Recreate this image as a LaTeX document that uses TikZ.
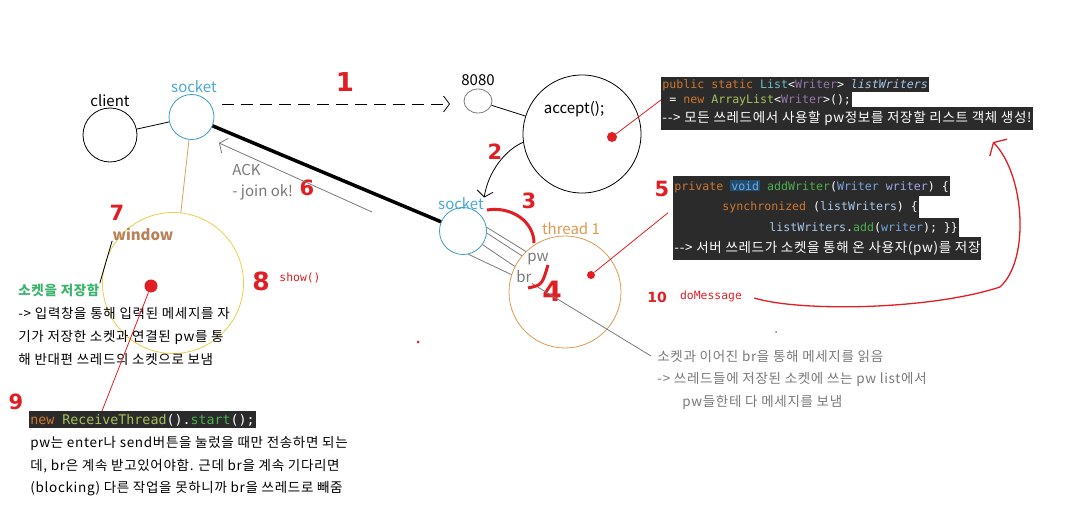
\documentclass[tikz,border=0pt]{standalone}
\usepackage{fontspec}
\setmainfont{Noto Sans CJK KR}
\newfontfamily\krfont{Noto Sans CJK KR}[LetterSpace=5]
\newfontfamily\codefont{DejaVu Sans Mono}
\newfontfamily\numfont{DejaVu Sans}
\usetikzlibrary{arrows.meta,shapes.geometric,calc}
\setlength{\fboxsep}{1pt}

\definecolor{sockc}{HTML}{3A9CC4}
\definecolor{socktxt}{HTML}{4AA8D8}
\definecolor{winc}{HTML}{E8D04C}
\definecolor{wintxt}{HTML}{B98258}
\definecolor{thrc}{HTML}{DE9A52}
\definecolor{linkc}{HTML}{DCA060}
\definecolor{redc}{HTML}{E01E24}
\definecolor{greenc}{HTML}{3DB46D}
\definecolor{grayc}{HTML}{7A7A7A}
\definecolor{codebg}{HTML}{2B2B2B}
\definecolor{kwc}{HTML}{CC7832}
\definecolor{typc}{HTML}{6CC0C8}
\definecolor{genc}{HTML}{9876AA}
\definecolor{fnc}{HTML}{A5C25C}
\definecolor{idc}{HTML}{A9C8E8}
\definecolor{parc}{HTML}{7AA6DA}
\definecolor{argc}{HTML}{9FA8E4}
\definecolor{mthc}{HTML}{4CAF50}
\definecolor{voidbg}{HTML}{1E4E72}

\begin{document}
\begin{tikzpicture}[
    x=1pt, y=-1pt, line width=0.8pt,
    ring/.style={circle, draw, inner sep=0pt},
    lbl/.style={inner sep=0pt, font=\fontsize{15}{17}\selectfont},
    num/.style={inner sep=0pt, text=redc, font=\numfont\bfseries\fontsize{21}{21}\selectfont},
    txt/.style={anchor=west, inner sep=0pt, font=\krfont\fontsize{13.5}{15}\selectfont},
    code/.style={anchor=north west, fill=codebg, text=white, inner xsep=1pt, inner ysep=0pt, minimum height=15pt, font=\codefont\fontsize{11.6}{13}\selectfont},
    kor/.style={font=\krfont\fontsize{13.5}{15}\selectfont},
    mono/.style={inner sep=0pt, text=redc, font=\codefont\fontsize{11.4}{13}\selectfont},
    blob/.style={circle, fill=redc, inner sep=0pt},
    arr/.style={-{Straight Barb[length=6pt,width=16pt]}}
]
\path[fill=white, use as bounding box] (0,0) rectangle (1080,532);

% circles
\node[ring, minimum size=54pt] (client) at (110,135) {};
\node[ring, draw=sockc, minimum size=45pt] (sockA) at (191.5,117) {};
\node[ellipse, draw=grayc, inner sep=0pt, minimum width=28pt, minimum height=24pt] (port) at (478,101) {};
\node[ring, minimum size=118pt] (acc) at (582,134) {};
\node[ring, draw=sockc, minimum size=47pt] (sockB) at (463,231) {};
\node[ring, draw=thrc, minimum size=112pt] (thr) at (565,292) {};
\node[ring, draw=winc, minimum size=141pt] (win) at (173,283) {};

% labels
\node[lbl] (clientlbl) at (110,101) {client};
\node[lbl, text=socktxt] (sockAlbl) at (194,87) {socket};
\node[lbl] (portlbl) at (478,80) {8080};
\node[lbl] (acclbl) at (574,109) {accept();};
\node[lbl, text=socktxt] (sockBlbl) at (461,204) {socket};
\node[lbl, text=thrc] (thrlbl) at (571,229) {thread 1};
\node[lbl, text=grayc] (pw) at (538,259) {pw};
\node[lbl, text=grayc] (br) at (524,277) {br};
\node[lbl, text=grayc, anchor=west] (ack) at (232,170) {ACK};
\node[lbl, text=grayc, anchor=west] (join) at (232,192) {- join ok!};
\node[lbl, text=wintxt, font=\bfseries\fontsize{15}{17}\selectfont] (winlbl) at (143,234) {window};
\node[mono] (show) at (300,278) {show()};
\node[mono] (domsg) at (711,296) {doMessage};

% red marks
\node[num, font=\numfont\bfseries\fontsize{26}{26}\selectfont] (n1) at (345,82) {1};
\node[num] (n2) at (495,152) {2};
\node[num] (n3) at (529,201) {3};
\node[num, font=\numfont\bfseries\fontsize{28}{28}\selectfont] (n4) at (552,291) {4};
\node[num] (n5) at (662,189) {5};
\node[num] (n6) at (307,188) {6};
\node[num] (n7) at (117,213) {7};
\node[num, font=\numfont\bfseries\fontsize{25}{25}\selectfont] (n8) at (261,281) {8};
\node[num] (n9) at (16,402) {9};
\node[num, font=\numfont\bfseries\fontsize{14}{14}\selectfont] (n10) at (657,297) {10};
\node[blob, minimum size=13pt] (winbl) at (151,286) {};
\node[blob, minimum size=10pt] (accbl) at (612,137) {};
\node[blob, minimum size=8pt] (thrbl) at (591,275) {};
\node[blob, minimum size=3pt] (spotA) at (418,342) {};
\node[blob, fill=grayc, minimum size=2pt] (spotB) at (776,332) {};

% code
\node[code] (cbA) at (661,77) {{\color{kwc}public static} {\color{typc}List}<{\color{genc}Writer}> {\color{idc}\itshape listWriters}};
\node[code] (cbB) at (661,92) {\hspace*{7pt}= {\color{kwc}new} {\color{fnc}ArrayList}<{\color{genc}Writer}>();};
\node[code, kor, minimum height=23pt] (cbC) at (661,107) {-{}-> 모든 쓰레드에서 사용할 pw정보를 저장할 리스트 객체 생성!};
\node[code, minimum height=20pt] (cbD) at (673,176) {{\color{kwc}private} \colorbox{voidbg}{\color{parc}void} {\color{mthc}addWriter}({\color{parc}Writer} {\color{argc}writer}) \{};
\node[code, minimum height=22pt] (cbE) at (673,196) {\hspace*{48pt}{\color{kwc}synchronized} ({\color{idc}listWriters}) \{};
\node[code, minimum height=19pt] (cbF) at (673,218) {\hspace*{95pt}{\color{idc}listWriters}.{\color{mthc}add}({\color{parc}writer}); \}\}};
\node[code, kor, minimum height=23pt] (cbG) at (673,237) {-{}-> 서버 쓰레드가 소켓을 통해 온 사용자(pw)를 저장};
\node[code, minimum height=17pt, font=\codefont\fontsize{13.3}{15}\selectfont] (cbH) at (29,411) {{\color{kwc}new} {\color{fnc}ReceiveThread}().{\color{mthc}start}();};

% notes
\node[txt, text=greenc, font=\krfont\bfseries\fontsize{13.5}{15}\selectfont] (save) at (18,290) {소켓을 저장함};
\node[txt] (sendA) at (18,313) {-> 입력창을 통해 입력된 메세지를 자};
\node[txt] (sendB) at (18,337) {기가 저장한 소켓과 연결된 pw를 통};
\node[txt] (sendC) at (18,359) {해 반대편 쓰레드의 소켓으로 보냄};
\node[txt] (recvA) at (30,443) {pw는 enter나 send버튼을 눌렀을 때만 전송하면 되는};
\node[txt] (recvB) at (30,466) {데, br은 계속 받고있어야함. 근데 br을 계속 기다리면};
\node[txt] (recvC) at (30,489) {(blocking) 다른 작업을 못하니까 br을 쓰레드로 빼줌};
\node[txt, text=grayc] (readA) at (657,356) {소켓과 이어진 br을 통해 메세지를 읽음};
\node[txt, text=grayc] (readB) at (657,379) {-> 쓰레드들에 저장된 소켓에 쓰는 pw list에서};
\node[txt, text=grayc] (readC) at (682,402) {pw들한테 다 메세지를 보냄};

\coordinate (dashS) at (222,104);
\coordinate (dashE) at (450,104);
\coordinate (ackS) at (372,212);
\coordinate (ackE) at (219,143);

% connectors
\draw (client) -- (sockA);
\draw[linkc] (sockA) -- (win);
\draw[line width=3.5pt] (sockA) -- (sockB);
\draw[arr, dash pattern=on 12pt off 7pt] (dashS) -- (dashE);
\draw (port) -- (acc);
\draw[arr] (acc.188) .. controls (505,150) and (488,172) .. (sockBlbl.north east);
\draw[arr, grayc] (ackS) -- (ackE);
\foreach \s/\t in {9/134, -5/140, -35/153, -77/162}
    \draw[grayc] (sockB.\s) -- (thr.\t);
\draw[grayc] (br.south east) -- ([xshift=-6pt]readA.west);
\draw (winlbl.south west) -- (save.north east);
\draw[redc] (accbl) -- (cbB.west);
\draw[redc] (thrbl) -- ($(cbE.south west)+(-5,-6)$);
\draw[redc] (winbl) -- ($(cbH.north west)+(73,0)$);
\draw[redc, line width=3pt] (487,210) .. controls (512,206) and (534,222) .. (534,243);
\draw[redc, line width=3pt] (528,288) .. controls (542,285) .. (548,265);
\draw[redc, line width=1.3pt, -{Straight Barb[length=7pt,width=24pt]}] ($(domsg.east)+(12,2)$) .. controls (800,312) and (930,310) .. (1000,287) .. controls (1030,260) and (1025,175) .. (993,142);
\end{tikzpicture}
\end{document}
